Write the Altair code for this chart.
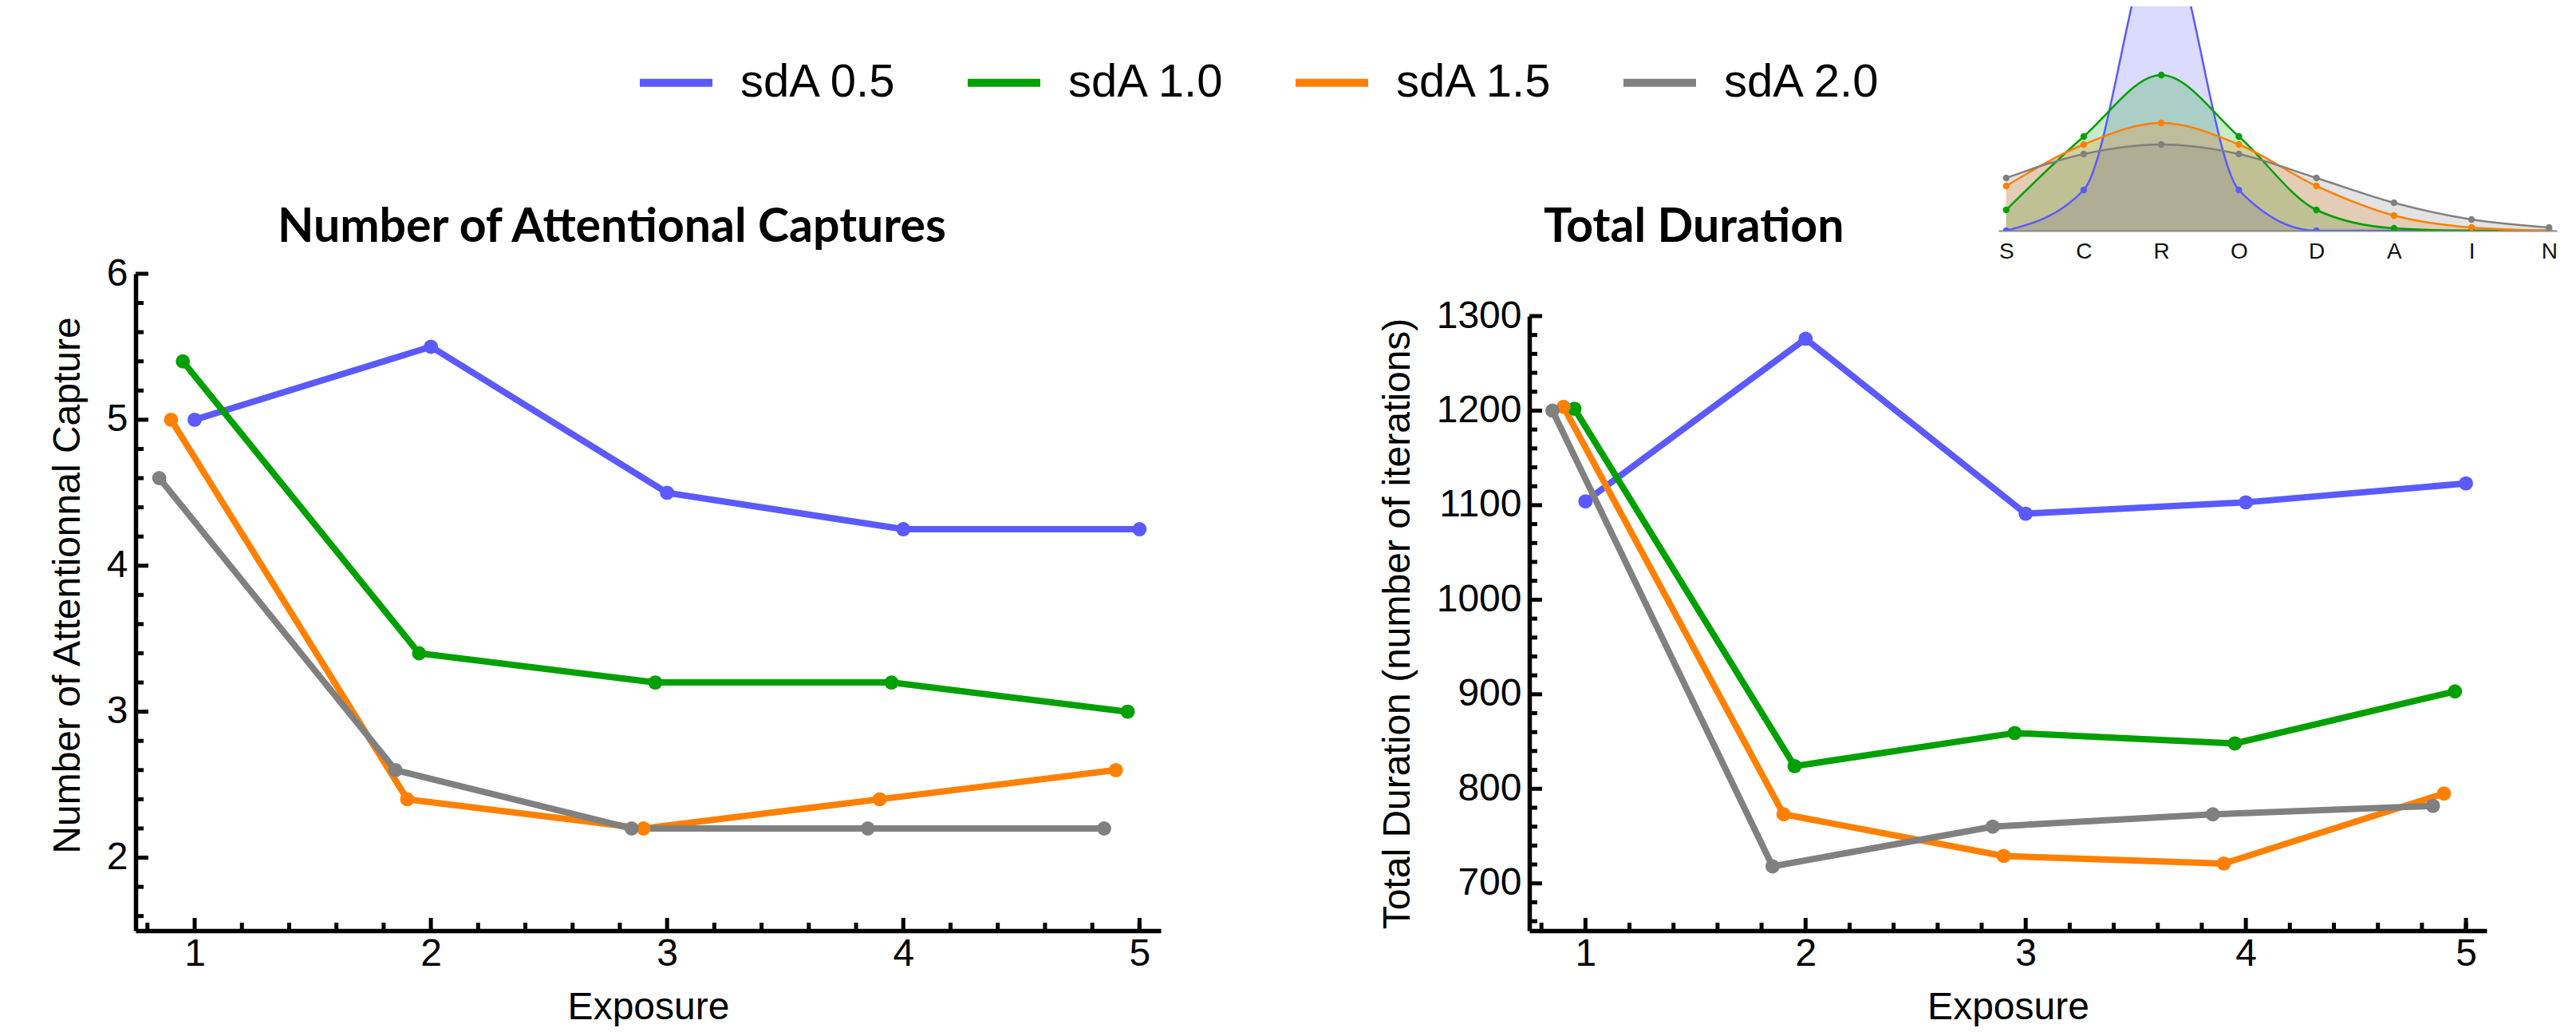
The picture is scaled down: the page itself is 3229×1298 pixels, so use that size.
import altair as alt
import pandas as pd

# ---------------- data ----------------
series = ["sdA 0.5", "sdA 1.0", "sdA 1.5", "sdA 2.0"]
colors = ["#5A5AFF", "#00A000", "#FF8000", "#808080"]

# plotted exposure positions (series are slightly dodged in the figure)
exp_05 = [1.0, 2.0, 3.0, 4.0, 5.0]
exp_10 = [0.95, 1.95, 2.95, 3.95, 4.95]
exp_15 = [0.9, 1.9, 2.9, 3.9, 4.9]
exp_20 = [0.85, 1.85, 2.85, 3.85, 4.85]

captures_05 = [5.0, 5.5, 4.5, 4.25, 4.25]
captures_10 = [5.4, 3.4, 3.2, 3.2, 3.0]
captures_15 = [5.0, 2.4, 2.2, 2.4, 2.6]
captures_20 = [4.6, 2.6, 2.2, 2.2, 2.2]

duration_05 = [1104, 1276, 1091, 1103, 1123]
duration_10 = [1202, 824, 859, 848, 903]
duration_15 = [1204, 773, 729, 721, 795]
duration_20 = [1200, 718, 760, 773, 782]

letters = ["S", "C", "R", "O", "D", "A", "I", "N"]
dist_05 = [0.0, 0.51, 3.8, 0.51, 0.0, 0.0, 0.0, 0.0]
dist_10 = [0.26, 1.18, 1.95, 1.18, 0.26, 0.03, 0.0, 0.0]
dist_15 = [0.56, 1.08, 1.35, 1.08, 0.56, 0.19, 0.04, 0.0]
dist_20 = [0.66, 0.96, 1.08, 0.96, 0.66, 0.35, 0.14, 0.04]

x_major = [1, 2, 3, 4, 5]
x_minor = [0.8, 1.2, 1.4, 1.6, 1.8, 2.2, 2.4, 2.6, 2.8, 3.2, 3.4, 3.6, 3.8,
           4.2, 4.4, 4.6, 4.8, 5.0]
cap_major = [2, 3, 4, 5, 6]
cap_minor = [1.6, 1.8, 2.2, 2.4, 2.6, 2.8, 3.2, 3.4, 3.6, 3.8, 4.2, 4.4, 4.6,
             4.8, 5.2, 5.4, 5.6, 5.8]
dur_major = [700, 800, 900, 1000, 1100, 1200, 1300]
dur_minor = [660, 680, 720, 740, 760, 780, 820, 840, 860, 880, 920, 940, 960,
             980, 1020, 1040, 1060, 1080, 1120, 1140, 1160, 1180, 1220, 1240,
             1260, 1280]

# ---------------- tables ----------------
exps = [exp_05, exp_10, exp_15, exp_20]
caps = [captures_05, captures_10, captures_15, captures_20]
durs = [duration_05, duration_10, duration_15, duration_20]
dists = [dist_05, dist_10, dist_15, dist_20]

rows = []
for s, ex, ca, du in zip(series, exps, caps, durs):
    for a, b, c in zip(ex, ca, du):
        rows.append({"series": s, "exposure": a, "captures": b, "duration": c})
main_df = pd.DataFrame(rows)

irows = []
for s, d in zip(series, dists):
    for l, v in zip(letters, d):
        irows.append({"series": s, "letter": l, "density": v})
inset_df = pd.DataFrame(irows)

FONT = "Liberation Sans"
FS = 48

color_scale = alt.Scale(domain=series, range=colors)


def x_axis():
    return alt.Axis(values=x_major, ticks=False, tickSize=0, grid=False,
                    domainWidth=5.5, domainColor="black", labelFont=FONT,
                    labelFontSize=FS, labelColor="black", labelPadding=5,
                    labelFlush=False, format="d", title="Exposure",
                    titleFont=FONT, titleFontSize=FS,
                    titleFontWeight="normal", titleColor="black",
                    titlePadding=19)


def y_axis(values, title, fmt, title_y=None):
    kw = {}
    if title_y is not None:
        kw["titleY"] = title_y
    return alt.Axis(values=values, ticks=False, tickSize=0, grid=False,
                    domainWidth=5.5, domainColor="black", labelFont=FONT,
                    labelFontSize=FS, labelColor="black", labelPadding=10,
                    labelFlush=False, format=fmt, title=title,
                    titleFont=FONT, titleFontSize=FS,
                    titleFontWeight="normal", titleColor="black",
                    titlePadding=24, **kw)


def panel(field, xdomain, yscale, ymin, ytitle, ymaj, ymin_ticks, title,
          title_dx, title_offset, width, title_y=None):
    xscale = alt.Scale(domain=xdomain, nice=False, zero=False)
    xa = x_axis()
    ya = y_axis(ymaj, ytitle, "d", title_y)
    base = alt.Chart(main_df).encode(
        x=alt.X("exposure:Q", scale=xscale, axis=xa),
        y=alt.Y(f"{field}:Q", scale=yscale, axis=ya),
        color=alt.Color("series:N", scale=color_scale, legend=None),
    )
    lines = base.mark_line(strokeWidth=8)
    pts = base.mark_circle(size=320, opacity=1)

    def xticks(vals, L):
        return alt.Chart(pd.DataFrame({"exposure": vals})).mark_tick(
            orient="vertical", size=L, thickness=5, color="black", opacity=1,
            yOffset=-L / 2).encode(
            x=alt.X("exposure:Q", scale=xscale, axis=xa),
            y=alt.YDatum(ymin, scale=yscale, axis=ya))

    def yticks(vals, L):
        return alt.Chart(pd.DataFrame({field: vals})).mark_tick(
            orient="horizontal", size=L, thickness=5, color="black", opacity=1,
            xOffset=L / 2).encode(
            y=alt.Y(f"{field}:Q", scale=yscale, axis=ya),
            x=alt.XDatum(xdomain[0], scale=xscale, axis=xa))

    return alt.layer(
        lines, pts,
        xticks(x_major, 16), xticks(x_minor, 10),
        yticks(ymaj, 16), yticks(ymin_ticks, 10),
    ).properties(
        width=width, height=823,
        title=alt.TitleParams(text=title, font="Lato", fontWeight="bold",
                              fontSize=59, color="black", anchor="start",
                              frame="group", dx=title_dx, offset=title_offset),
    )


left = panel("captures", [0.75, 5.09],
             alt.Scale(domain=[1.5, 6], nice=False, zero=False),
             1.5, "Number of Attentionnal Capture",
             cap_major, cap_minor, "Number of Attentional Captures",
             178, 4, 1285, title_y=390)

right = panel("duration", [0.745, 5.094],
              alt.Scale(domain=[650, 1300], nice=False, zero=False,
                        range=[823, 53]),
              650, "Total Duration (number of iterations)",
              dur_major, dur_minor, "Total Duration",
              18, 28, 1200)

# ---------------- inset ----------------
legend = alt.Legend(orient="none", legendX=627, legendY=45,
                    direction="horizontal", title=None, symbolType="stroke",
                    symbolSize=8281, symbolStrokeWidth=10, symbolOpacity=1,
                    labelFont=FONT, labelFontSize=58, labelColor="black",
                    labelOffset=30, columnPadding=68, labelLimit=600,
                    padding=0)

ibase = alt.Chart(inset_df).encode(
    x=alt.X("letter:N", sort=letters,
            scale=alt.Scale(type="point", range=[2335, 3035], padding=0.1),
            axis=alt.Axis(title=None, labelAngle=0, ticks=False, tickSize=0,
                          grid=False, domainColor="#8c8c8c", domainWidth=2,
                          labelFont=FONT, labelFontSize=28,
                          labelColor="#111111", labelPadding=12)),
    y=alt.Y("density:Q", stack=None,
            scale=alt.Scale(domain=[0, 2.81], nice=False), axis=None),
    color=alt.Color("series:N", scale=color_scale, legend=legend),
)
inset = alt.layer(
    ibase.mark_area(interpolate="monotone", opacity=0.22, clip=True),
    ibase.mark_line(interpolate="monotone", strokeWidth=2.5, clip=True),
    ibase.mark_circle(size=70, opacity=1, clip=True),
).properties(width=3043, height=281)

bottom = alt.hconcat(left, right, spacing=462, bounds="flush").resolve_scale(
    color="independent").resolve_legend(color="independent")

chart = alt.vconcat(inset, bottom, spacing=54, bounds="flush").resolve_scale(
    color="independent").resolve_legend(color="independent").properties(
    padding={"left": 53, "top": 0, "right": 0, "bottom": 0},
    background="white",
).configure_view(stroke=None)

chart.save("out.html", embed_options={"renderer": "svg", "actions": False})
